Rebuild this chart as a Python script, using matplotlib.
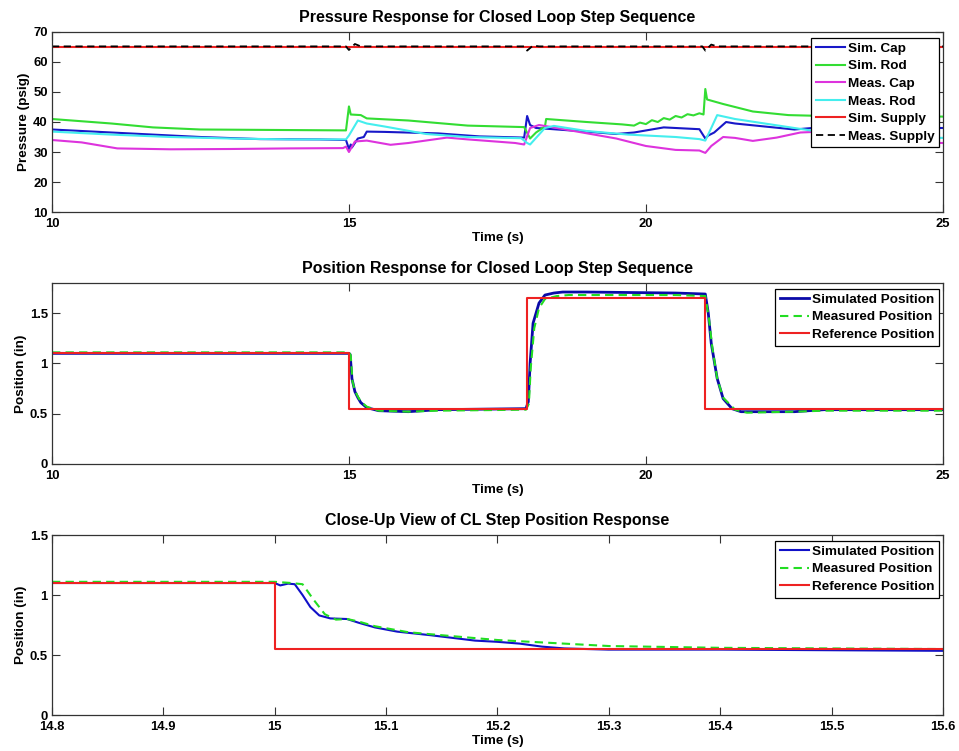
import matplotlib
matplotlib.use("Agg")
import matplotlib.pyplot as plt

plt.rcParams['font.family'] = ['Liberation Sans', 'DejaVu Sans']
plt.rcParams['font.weight'] = 'bold'
plt.rcParams['axes.labelweight'] = 'bold'
plt.rcParams['axes.titleweight'] = 'bold'

# ---- pressure response (psig) ----
t_simcap = [10.0, 10.5, 11.5, 12.5, 13.5, 14.5, 14.95, 15.0, 15.03, 15.05, 15.15, 15.25, 15.3,
            15.6, 16.5, 17.2, 17.95, 18.0, 18.05, 18.15, 18.3, 19.0, 19.5, 19.8, 20.3, 20.9,
            21.0, 21.05, 21.15, 21.35, 21.5, 22.0, 22.5, 22.8, 23.3, 24.0, 25.0]
p_simcap = [37.5, 37.0, 36.0, 35.0, 34.3, 34.2, 34.0, 31.0, 32.5, 31.5, 34.5, 35.0, 36.8,
            36.7, 36.2, 35.2, 34.8, 42.0, 39.0, 38.0, 37.8, 36.8, 36.0, 36.5, 38.2, 37.6,
            34.5, 35.5, 36.5, 40.0, 39.5, 38.5, 37.5, 38.0, 38.5, 38.0, 38.0]

t_simrod = [10.0, 11.0, 11.7, 12.5, 14.95, 15.0, 15.03, 15.2, 15.3, 16.0, 17.0, 17.95, 18.05,
            18.15, 18.3, 18.32, 19.0, 19.6, 19.8, 19.9, 20.0, 20.1, 20.2, 20.3, 20.4, 20.5,
            20.6, 20.7, 20.8, 20.9, 20.97, 21.0, 21.03, 21.3, 21.8, 22.4, 23.0, 24.0, 25.0]
p_simrod = [41.0, 39.5, 38.2, 37.5, 37.2, 45.2, 42.5, 42.3, 41.2, 40.5, 38.8, 38.3, 34.5,
            36.5, 38.5, 41.0, 40.0, 39.2, 38.8, 39.8, 39.3, 40.6, 40.0, 41.3, 40.8, 42.0,
            41.5, 42.6, 42.2, 42.9, 42.5, 51.0, 47.5, 46.0, 43.5, 42.3, 42.0, 42.0, 41.8]

t_meascap = [10.0, 10.5, 11.1, 12.0, 13.0, 14.0, 14.9, 14.95, 15.0, 15.1, 15.3, 15.7, 16.0,
             16.65, 17.0, 17.8, 17.95, 18.05, 18.2, 18.5, 19.5, 20.0, 20.5, 20.9, 21.0, 21.1,
             21.3, 21.5, 21.8, 22.2, 22.6, 23.2, 23.6, 24.0, 25.0]
p_meascap = [34.0, 33.2, 31.2, 30.9, 31.0, 31.2, 31.3, 31.8, 30.0, 33.5, 33.8, 32.4, 33.0,
             34.8, 34.2, 33.0, 32.5, 38.0, 39.0, 38.0, 34.5, 32.0, 30.7, 30.5, 29.7, 32.0,
             35.0, 34.7, 33.7, 34.8, 36.5, 37.0, 35.0, 33.5, 33.0]

t_measrod = [10.0, 11.0, 12.0, 13.0, 14.0, 14.95, 15.0, 15.15, 15.3, 15.6, 16.3, 17.0, 17.9,
             18.0, 18.05, 18.3, 18.45, 19.0, 19.7, 20.5, 20.9, 21.0, 21.1, 21.2, 21.5, 22.0,
             22.5, 23.0, 24.0, 25.0]
p_measrod = [36.8, 35.8, 35.0, 34.5, 34.2, 34.2, 35.5, 40.5, 39.5, 38.5, 36.0, 35.0, 34.6,
             33.0, 32.5, 38.0, 38.7, 37.0, 35.8, 35.0, 34.3, 33.8, 38.0, 42.3, 41.0, 39.5,
             38.0, 36.5, 35.2, 34.7]

t_simsup = [10.0, 25.0]
p_simsup = [65.0, 65.0]

t_meassup = [10.0, 14.95, 15.0, 15.1, 15.2, 17.95, 18.0, 18.1, 18.2, 20.95, 21.0, 21.1, 21.2, 25.0]
p_meassup = [65.2, 65.2, 64.0, 66.0, 65.2, 65.2, 63.8, 65.5, 65.2, 65.2, 63.8, 65.8, 65.2, 65.2]

# ---- position, full sequence (in) ----
t_ref = [10.0, 15.0, 15.0, 18.0, 18.0, 21.0, 21.0, 25.0]
x_ref = [1.1, 1.1, 0.55, 0.55, 1.65, 1.65, 0.55, 0.55]

t_sim = [10.0, 15.0, 15.02, 15.05, 15.1, 15.15, 15.2, 15.3, 15.5, 16.0, 16.5, 17.98, 18.02,
         18.05, 18.1, 18.2, 18.3, 18.45, 18.6, 19.0, 20.5, 21.0, 21.05, 21.1, 21.2, 21.3,
         21.45, 21.6, 22.5, 23.0, 25.0]
x_sim = [1.10, 1.10, 1.09, 0.85, 0.72, 0.66, 0.61, 0.56, 0.53, 0.52, 0.54, 0.55, 0.62,
         1.0, 1.4, 1.6, 1.68, 1.70, 1.71, 1.71, 1.70, 1.69, 1.5, 1.2, 0.85, 0.65,
         0.55, 0.52, 0.52, 0.54, 0.54]

t_meas = [10.0, 15.0, 15.03, 15.06, 15.1, 15.15, 15.2, 15.3, 15.5, 16.0, 16.5, 17.98, 18.03,
          18.06, 18.12, 18.2, 18.3, 18.5, 18.7, 19.0, 20.5, 21.0, 21.06, 21.12, 21.2, 21.3,
          21.5, 21.7, 22.5, 23.0, 25.0]
x_meas = [1.11, 1.11, 1.08, 0.82, 0.73, 0.67, 0.62, 0.57, 0.53, 0.52, 0.53, 0.54, 0.60,
          0.95, 1.35, 1.55, 1.64, 1.67, 1.68, 1.68, 1.68, 1.67, 1.45, 1.15, 0.85, 0.66,
          0.54, 0.51, 0.52, 0.53, 0.53]

# ---- close-up ----
tc_ref = [14.8, 15.0, 15.0, 15.6]
xc_ref = [1.1, 1.1, 0.55, 0.55]

tc_sim = [14.8, 15.0, 15.005, 15.012, 15.018, 15.025, 15.032, 15.04, 15.05, 15.065, 15.075,
          15.09, 15.11, 15.14, 15.18, 15.2, 15.22, 15.24, 15.26, 15.3, 15.4, 15.5, 15.6]
xc_sim = [1.1, 1.1, 1.08, 1.095, 1.09, 1.0, 0.9, 0.83, 0.805, 0.80, 0.77,
          0.73, 0.695, 0.665, 0.62, 0.61, 0.595, 0.57, 0.555, 0.545, 0.545, 0.54, 0.535]

tc_meas = [14.8, 15.0, 15.015, 15.025, 15.035, 15.045, 15.055, 15.065, 15.075, 15.09, 15.12,
           15.15, 15.2, 15.25, 15.3, 15.4, 15.5, 15.6]
xc_meas = [1.11, 1.11, 1.10, 1.09, 0.96, 0.84, 0.795, 0.80, 0.78, 0.74, 0.69,
           0.665, 0.625, 0.60, 0.575, 0.56, 0.555, 0.55]

FS_T = 11.5
FS_L = 9.7
FS_K = 9.4

fig = plt.figure(figsize=(9.59, 7.51), dpi=100)


def style(ax, xlim, ylim, xticks, yticks, ylabel, title):
    ax.set_xlim(*xlim)
    ax.set_ylim(*ylim)
    ax.set_xticks(xticks)
    ax.set_yticks(yticks)
    ax.set_xticklabels([('%g' % v) for v in xticks], fontweight='bold')
    ax.set_yticklabels([('%g' % v) for v in yticks], fontweight='bold')
    ax.tick_params(direction='in', length=6, width=0.8, top=True, right=True,
                   labelsize=FS_K, colors='#333333', labelcolor='black')
    ax.tick_params(axis='x', pad=4.5)
    ax.tick_params(axis='y', pad=3)
    for s in ax.spines.values():
        s.set_color('#333333')
        s.set_linewidth(0.9)
    ax.set_xlabel('Time (s)', fontsize=FS_L, labelpad=1.5)
    ax.set_ylabel(ylabel, fontsize=FS_L, labelpad=2)
    ax.set_title(title, fontsize=FS_T, pad=7.5)


def legend(ax):
    lg = ax.legend(loc='upper right', bbox_to_anchor=(0.996, 0.968), borderaxespad=0,
                   fancybox=False, framealpha=1, edgecolor='black',
                   handlelength=2.2, handletextpad=0.2, labelspacing=0.38, borderpad=0.35,
                   prop={'weight': 'bold', 'size': FS_L})
    lg.get_frame().set_linewidth(0.9)


ax1 = fig.add_axes([0.0542, 0.7177, 0.929, 0.2397])
ax1.plot(t_simcap, p_simcap, color='#1818c8', lw=1.5, label='Sim. Cap')
ax1.plot(t_simrod, p_simrod, color='#33dd33', lw=1.5, label='Sim. Rod')
ax1.plot(t_meascap, p_meascap, color='#dd33dd', lw=1.5, label='Meas. Cap')
ax1.plot(t_measrod, p_measrod, color='#44eeee', lw=1.5, label='Meas. Rod')
ax1.plot(t_simsup, p_simsup, color='#ee2222', lw=1.5, label='Sim. Supply')
ax1.plot(t_meassup, p_meassup, color='black', lw=1.3, ls=(0, (4, 2.5)), label='Meas. Supply')
style(ax1, (10, 25), (10, 70), [10, 15, 20, 25], [10, 20, 30, 40, 50, 60, 70],
      'Pressure (psig)', 'Pressure Response for Closed Loop Step Sequence')
legend(ax1)

ax2 = fig.add_axes([0.0542, 0.3822, 0.929, 0.241])
ax2.plot(t_sim, x_sim, color='#0a0aa8', lw=2.0, label='Simulated Position')
ax2.plot(t_meas, x_meas, color='#22dd22', lw=1.5, ls=(0, (4, 2.5)), label='Measured Position')
ax2.plot(t_ref, x_ref, color='#ee2222', lw=1.5, label='Reference Position')
style(ax2, (10, 25), (0, 1.8), [10, 15, 20, 25], [0, 0.5, 1, 1.5],
      'Position (in)', 'Position Response for Closed Loop Step Sequence')
legend(ax2)

ax3 = fig.add_axes([0.0542, 0.0479, 0.929, 0.2397])
ax3.plot(tc_sim, xc_sim, color='#1010c8', lw=1.5, label='Simulated Position')
ax3.plot(tc_meas, xc_meas, color='#22dd22', lw=1.5, ls=(0, (4, 2.5)), label='Measured Position')
ax3.plot(tc_ref, xc_ref, color='#ee2222', lw=1.5, label='Reference Position')
style(ax3, (14.8, 15.6), (0, 1.5), [14.8, 14.9, 15, 15.1, 15.2, 15.3, 15.4, 15.5, 15.6],
      [0, 0.5, 1, 1.5], 'Position (in)', 'Close-Up View of CL Step Position Response')
legend(ax3)

fig.savefig('out.png', dpi=100)
